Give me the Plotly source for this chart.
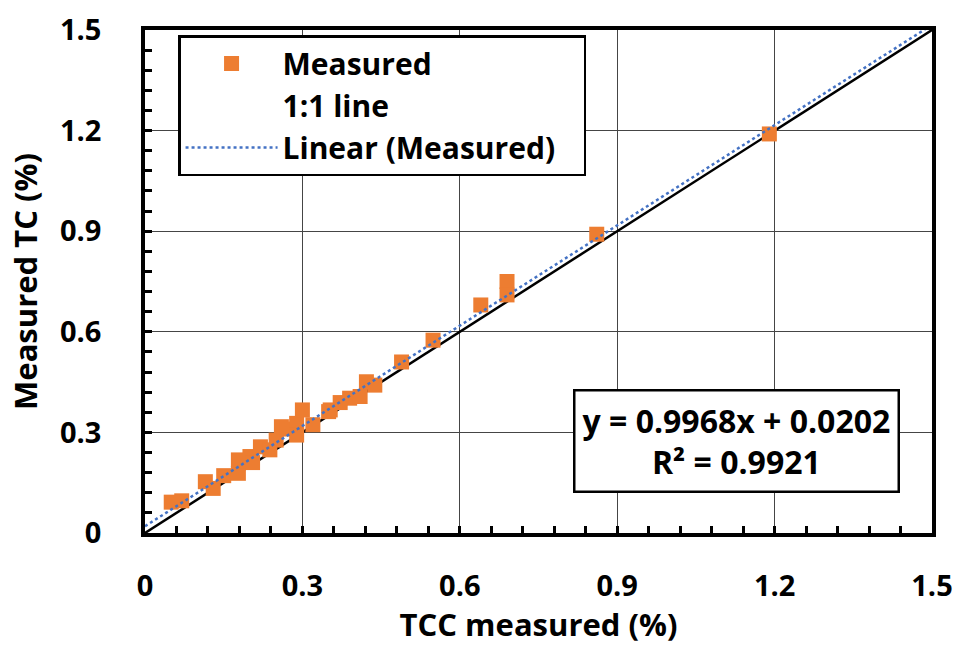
import plotly.graph_objects as go

# Data
tcc_measured = [0.05, 0.07, 0.115, 0.13, 0.15, 0.178, 0.178, 0.18, 0.20, 0.205, 0.22, 0.238,
                0.25, 0.26, 0.27, 0.289, 0.289, 0.30, 0.32, 0.35, 0.353, 0.372, 0.39, 0.41,
                0.422, 0.438, 0.489, 0.549, 0.64, 0.69, 0.69, 0.861, 1.19]
tc_measured = [0.092, 0.096, 0.153, 0.133, 0.171, 0.218, 0.178, 0.216, 0.228, 0.21, 0.257, 0.248,
               0.277, 0.317, 0.31, 0.327, 0.292, 0.367, 0.323, 0.362, 0.367, 0.389, 0.402, 0.407,
               0.451, 0.441, 0.51, 0.575, 0.68, 0.75, 0.71, 0.891, 1.19]
fit_slope = 0.9968
fit_intercept = 0.0202
r_squared = 0.9921
line_x = [0, 1.5]
tick_vals = [0, 0.3, 0.6, 0.9, 1.2, 1.5]
tick_text = ["0", "0.3", "0.6", "0.9", "1.2", "1.5"]

FONT = "Open Sans"
orange = "#ED7D31"
blue = "#4472C4"
PAD = "\u00a0\u00a0\u00a0"

fig = go.Figure()

fig.add_trace(go.Scatter(x=line_x, y=line_x, mode="lines",
                         line=dict(color="black", width=2.5), showlegend=False,
                         hoverinfo="skip"))
fig.add_trace(go.Scatter(x=tcc_measured, y=tc_measured, mode="markers", name="Measured",
                         marker=dict(symbol="square", size=15, color=orange), legendrank=1))
fig.add_trace(go.Scatter(x=[None], y=[None], mode="lines", name="1:1 line",
                         line=dict(color="rgba(0,0,0,0)", width=0), legendrank=2))
fit_y = [fit_slope * v + fit_intercept for v in line_x]
fig.add_trace(go.Scatter(x=line_x, y=fit_y, mode="lines", name="Linear (Measured)" + PAD,
                         line=dict(color=blue, width=2.5, dash="dot"), legendrank=3))

axis_common = dict(
    range=[0, 1.5], tickvals=tick_vals, ticktext=tick_text,
    showgrid=True, gridcolor="#454545", gridwidth=1,
    showline=True, linecolor="black", linewidth=3.5, mirror=True,
    ticks="inside", ticklen=7, tickwidth=2.5, tickcolor="black",
    minor=dict(dtick=0.06, ticks="inside", ticklen=7, tickwidth=2.5, tickcolor="black", showgrid=False),
    tickfont=dict(family=FONT, size=29, color="black", weight="bold"),
    zeroline=False, fixedrange=True, automargin=False,
)

fig.update_xaxes(**axis_common, ticklabelstandoff=24,
                 title=dict(text="TCC measured (%)", standoff=18,
                            font=dict(family=FONT, size=31, color="black", weight="bold")))
fig.update_yaxes(**axis_common, ticklabelstandoff=34,
                 title=dict(text="Measured TC (%)", standoff=14,
                            font=dict(family=FONT, size=31, color="black", weight="bold")))

fig.update_layout(
    width=960, height=645,
    margin=dict(l=145, r=28, t=30, b=112),
    plot_bgcolor="white", paper_bgcolor="white",
    legend=dict(x=0.042, y=0.99, xanchor="left", yanchor="top",
                bgcolor="white", bordercolor="black", borderwidth=2.5,
                font=dict(family=FONT, size=30, color="black", weight="bold"),
                itemwidth=92, tracegroupgap=0),
    annotations=[dict(
        x=0.959, y=0.183, xref="paper", yref="paper", xanchor="right", yanchor="middle",
        text=f"y = {fit_slope}x + {fit_intercept}<br>R² = {r_squared}",
        showarrow=False, align="center",
        font=dict(family=FONT, size=32, color="black", weight="bold"),
        bgcolor="white", bordercolor="black", borderwidth=2.5, borderpad=7,
    )],
)

fig.write_html("out.html")
